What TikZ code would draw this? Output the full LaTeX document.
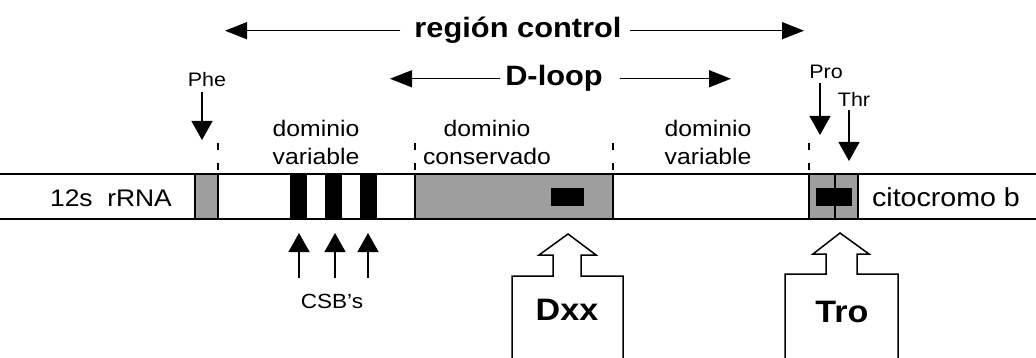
\documentclass[tikz,border=0pt]{standalone}
\usepackage{fontspec}
\usepackage{graphicx}
\setmainfont{Liberation Sans}
\usetikzlibrary{arrows.meta}
\newcommand{\sx}[1]{\scalebox{1.1}[1]{#1}}
\begin{document}
\begin{tikzpicture}[x=1pt,y=-1pt,
  bar/.style={line width=1.7pt},
  lbl/.style={inner sep=0pt, anchor=base},
  headtxt/.style={font=\fontsize{28}{30}\selectfont\bfseries},
  domtxt/.style={font=\fontsize{22.5}{28}\selectfont, inner sep=0pt, anchor=base},
  smalltxt/.style={font=\fontsize{19.5}{21}\selectfont, inner sep=0pt},
  genetxt/.style={inner sep=0pt, anchor=base},
  bigarr/.style={line width=1.4pt, -{Triangle[length=22pt,width=17pt]}},
  thinarr/.style={line width=1.2pt, -{Triangle[length=19pt,width=21pt]}},
  dsh/.style={line width=1.5pt, dash pattern=on 7pt off 13pt},
  block/.style={line width=1.5pt, fill=white},
  greyfill/.style={fill=black!38}
]
\useasboundingbox (0,0) rectangle (1036,358);

% ---------- bar segments ----------
\fill[greyfill] (195,174) rectangle (218,219);
\fill[greyfill] (415,174) rectangle (613,219);
\fill[greyfill] (809,174) rectangle (858,219);
\foreach \xa/\xb in {290/307,325/342,360/377}{
  \fill (\xa,174) rectangle (\xb,219);
}
\draw[bar] (0,174) -- (1036,174);
\draw[bar] (0,219) -- (1036,219);
\foreach \xx in {195,218,415,613,809,835,858}{
  \draw[bar] (\xx,174) -- (\xx,219);
}
\fill (551,188) rectangle (584,206);
\fill (816,188) rectangle (852,206);

% ---------- dashed domain limits ----------
\foreach \xx in {218,415,613,809}{
  \draw[dsh] (\xx,143) -- (\xx,174);
}

% ---------- gene names ----------
\node[genetxt, font=\fontsize{24}{26}\selectfont] (rrna) at (111,207) {\sx{12s~~rRNA}};
\node[genetxt, font=\fontsize{26}{28}\selectfont] (cytb) at (946,207) {\sx{citocromo b}};

% ---------- domain labels ----------
\node[domtxt] (d1a) at (316,137) {\sx{dominio}};
\node[domtxt] (d1b) at (316,165) {\sx{variable}};
\node[domtxt] (d2a) at (487,137) {\sx{dominio}};
\node[domtxt] (d2b) at (487,165) {\sx{conservado}};
\node[domtxt] (d3a) at (708,137) {\sx{dominio}};
\node[domtxt] (d3b) at (708,165) {\sx{variable}};

% ---------- region control / D-loop ----------
\node[headtxt, lbl] (rc) at (518,38) {\sx{región control}};
\coordinate (rcL) at (225,30);
\coordinate (rcR) at (804,30);
\draw[bigarr] ([xshift=-14pt]rc.west) -- (rcL |- rc.west);
\draw[bigarr] ([xshift=8pt]rc.east) -- (rcR |- rc.east);

\node[headtxt, lbl] (dl) at (554,86) {\sx{D-loop}};
\coordinate (dlL) at (390,77);
\coordinate (dlR) at (731,77);
\draw[bigarr] ([xshift=-5pt]dl.west) -- (dlL |- dl.west);
\draw[bigarr] ([xshift=17pt]dl.east) -- (dlR |- dl.east);

% ---------- tRNA labels ----------
\node[smalltxt] (phe) at (207,80) {\sx{Phe}};
\coordinate (pheT) at (202,140);
\draw[thinarr] (pheT |- phe.south) ++(0,5) -- (pheT);

\node[smalltxt] (pro) at (826,72) {\sx{Pro}};
\coordinate (proT) at (820,135);
\draw[thinarr] (proT |- pro.south) ++(0,4) -- (proT);

\node[smalltxt] (thr) at (854,99) {\sx{Thr}};
\coordinate (thrT) at (849,161);
\draw[thinarr] (thrT |- thr.south) ++(0,4) -- (thrT);

% ---------- CSB's ----------
\node[font=\fontsize{20.5}{22}\selectfont, inner sep=0pt] (csb) at (332,301) {\sx{CSB's}};
\foreach \xx/\nm in {299/c1,335/c2,368/c3}{
  \coordinate (\nm) at (\xx,233);
  \draw[thinarr] (\xx,278) -- (\nm);
}

% ---------- block arrows ----------
\draw[block] (512,362) -- (512,276) -- (553,276) -- (553,255) -- (539,255)
  -- (568,234) -- (596,255) -- (581,255) -- (581,276) -- (623,276) -- (623,362);
\node[font=\fontsize{31}{32}\selectfont\bfseries, inner sep=0pt] (dxx) at (567,310) {\sx{Dxx}};

\draw[block] (785,362) -- (785,274) -- (826,274) -- (826,254) -- (813,254)
  -- (840,233) -- (869,254) -- (857,254) -- (857,274) -- (898,274) -- (898,362);
\node[font=\fontsize{31}{32}\selectfont\bfseries, inner sep=0pt] (tro) at (842,312) {\sx{Tro}};
\end{tikzpicture}
\end{document}
